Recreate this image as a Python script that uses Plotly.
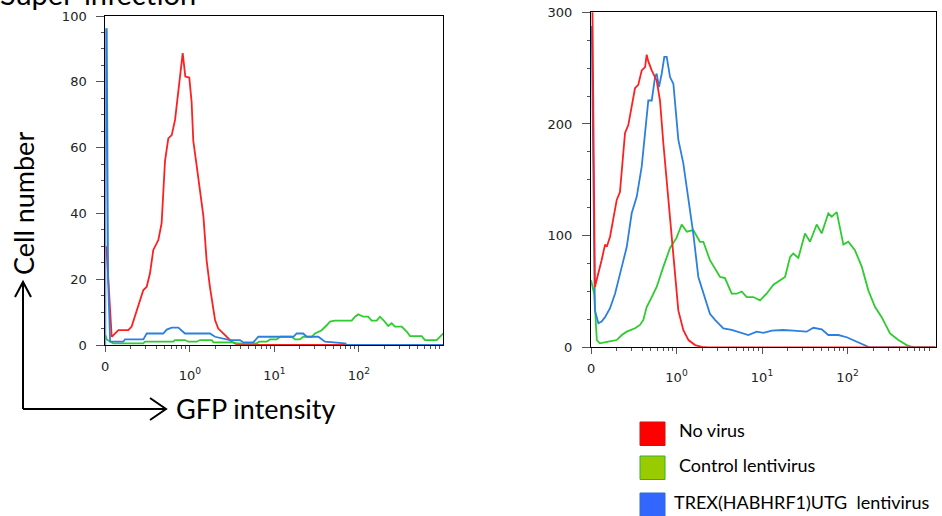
import plotly.graph_objects as go

# ---------------- data (GFP intensity, cell number) ----------------
# Left panel: "Super-infection"
left_red_x = [0.103, 0.119, 0.143, 0.187, 0.205, 0.224, 0.258, 0.282, 0.309,
              0.338, 0.370, 0.424, 0.464, 0.509, 0.557, 0.611, 0.669, 0.74, 0.824,
              0.885, 0.986, 1.05, 1.10, 1.21, 1.32, 1.45, 1.58, 1.73, 1.99,
              2.17, 2.49, 2.86, 3.13, 3.75, 1000]
left_red_y = [30, 2.5, 4.5, 4.5, 5.6, 8.6, 13.7, 16.7, 17.7,
              21.8, 28.9, 31.9, 37, 56, 62.8, 63.8, 68.4, 78, 88.7,
              81.6, 81.3, 74, 62, 54.2, 47.1, 39, 25.8, 17.7, 7.6,
              5, 3.5, 2, 1, 0, 0]

left_green_x = [0.1, 0.104, 0.124, 0.282, 0.295, 0.638, 0.669, 0.877, 0.959, 1.21,
                1.32, 1.82, 1.90, 3.27, 3.59, 6.19, 6.6, 8.13, 8.90, 10.7,
                11.7, 16.1, 17.6, 20.1, 22.0, 27.7, 30.3, 33.2, 36.4, 41.7,
                45.6, 52.3, 57.2, 82.4, 90.2, 98.6, 113, 129, 142, 163,
                178, 195, 223, 245, 268, 322, 369, 404, 555, 607,
                835, 957, 1000]
left_green_y = [3, 1.7, 0.5, 0.5, 1.0, 1.0, 1.5, 1.5, 1.0, 1.0,
                1.5, 1.5, 0.8, 0.8, 0.5, 0.5, 1.0, 1.0, 1.7, 1.7,
                2.5, 2.5, 1.7, 1.7, 2.5, 2.5, 3.5, 4.0, 4.5, 6.0,
                7.1, 7.4, 7.4, 7.4, 8.6, 9.3, 8.6, 8.6, 7.4, 7.4,
                8.6, 7.6, 5.8, 6.6, 5.6, 5.6, 4.1, 2.7, 2.7, 1.5,
                1.5, 3.0, 3.5]

left_blue_x = [0.1, 0.101, 0.104, 0.106, 0.108, 0.114, 0.163, 0.171, 0.282, 0.309,
               0.485, 0.533, 0.611, 0.731, 0.802, 0.877, 1.73, 1.99, 2.99, 3.93,
               4.30, 5.64, 6.47, 16.8, 18.4, 22.0, 24.2, 33.2, 39.8, 68.7,
               72, 1000]
left_blue_y = [0, 96, 96, 60, 20, 1.0, 1.0, 1.7, 1.7, 3.5,
               3.5, 4.7, 5.3, 5.3, 4.5, 3.5, 3.5, 2.5, 1.5, 1.5,
               0.8, 0.8, 2.5, 2.5, 3.5, 3.5, 2.5, 2.5, 1.0, 0.5,
               0, 0]

# Right panel
right_red_x = [0.1, 0.1035, 0.111, 0.122, 0.133, 0.146, 0.153, 0.167, 0.200, 0.218,
               0.250, 0.273, 0.327, 0.357, 0.392, 0.429, 0.448, 0.468, 0.513, 0.586,
               0.641, 0.701, 0.768, 0.840, 0.919, 1.05, 1.20, 1.38, 1.65, 1.97,
               2.3, 1070]
right_red_y = [320, 320, 54, 66, 78, 92, 90, 99, 132, 139,
               192, 199, 232, 235, 248, 251, 262, 256, 248, 239,
               221, 183, 150, 117, 81, 33, 15.5, 6.5, 2, 0.3,
               0, 0]

right_green_x = [0.1, 0.109, 0.117, 0.127, 0.159, 0.200, 0.229, 0.262, 0.327, 0.374,
                 0.409, 0.448, 0.513, 0.586, 0.701, 0.840, 1.00, 1.15, 1.32, 1.57,
                 1.88, 2.06, 2.46, 3.23, 3.69, 4.42, 5.06, 5.79, 6.62, 7.91,
                 9.48, 11.3, 13.6, 16.2, 18.6, 21.3, 23.2, 26.6, 31.8, 36.4,
                 43.6, 49.9, 59.6, 65.3, 74.8, 89.4, 102, 122, 147, 175,
                 210, 251, 314, 393, 492, 564, 600, 1070]
right_green_y = [60, 48, 6.5, 3.6, 5, 6.5, 11, 14, 17, 20,
                 24.5, 36, 45, 54, 72, 89, 98, 110, 103.5, 105,
                 94.5, 94.5, 78, 63, 62, 48, 48, 50, 45, 45,
                 42, 48, 56, 60, 63, 81, 84, 80, 102, 94.5,
                 110, 102, 120, 117, 121, 92, 94.5, 87, 72, 51,
                 36, 27, 12.5, 6.5, 2, 0.5, 0, 0]

right_blue_x = [0.1, 0.102, 0.111, 0.122, 0.133, 0.146, 0.167, 0.191, 0.229, 0.262,
                0.299, 0.343, 0.392, 0.429, 0.468, 0.513, 0.561, 0.586, 0.624, 0.671,
                0.720, 0.768, 0.840, 0.919, 1.05, 1.20, 1.38, 1.57, 1.80, 2.06,
                2.46, 2.82, 3.53, 4.42, 5.53, 6.92, 8.67, 10.4, 13.0, 17.7,
                23.2, 33.3, 39.8, 49.9, 59.6, 78.0, 97.9, 128, 168, 180,
                1070]
right_blue_y = [287, 287, 33, 21.5, 23, 27, 35, 48, 72, 90,
                120, 135, 162, 192, 221, 221, 242, 245, 233, 245,
                260, 260, 242, 236, 186, 165, 132, 102, 63, 48,
                30, 24.5, 17, 15.5, 13, 11, 14, 13, 15, 15.5,
                15, 14, 17.5, 16, 11, 11, 9, 5, 0.5, 0,
                0]

x_tick_vals = [0.1, 1, 10, 100]
x_tick_text = ["", "10<sup>0</sup>", "10<sup>1</sup>", "10<sup>2</sup>"]
x_zero_label = "0"
x_minor_vals = [m * d for d in (0.1, 1, 10, 100) for m in range(2, 10)]

legend_labels = ["No virus", "Control lentivirus", "TREX(HABHRF1)UTG  lentivirus"]

# ---------------- styling ----------------
W, H = 942, 516
RED, GREEN, BLUE = "#ff1f1f", "#2ecc2e", "#2b80de"
CAL = "Lato"
TICKFAM = "DejaVu Sans"


def px(x, y):
    return x / W, 1 - y / H


fig = go.Figure()
for xs, ys, c in [(left_red_x, left_red_y, RED), (left_green_x, left_green_y, GREEN),
                  (left_blue_x, left_blue_y, BLUE)]:
    fig.add_trace(go.Scatter(x=xs, y=ys, mode="lines", line=dict(color=c, width=1.8),
                             xaxis="x", yaxis="y", showlegend=False, hoverinfo="skip"))
for xs, ys, c in [(right_green_x, right_green_y, GREEN), (right_blue_x, right_blue_y, BLUE),
                  (right_red_x, right_red_y, RED)]:
    fig.add_trace(go.Scatter(x=xs, y=ys, mode="lines", line=dict(color=c, width=1.8),
                             xaxis="x2", yaxis="y2", showlegend=False, hoverinfo="skip"))

tickfont = dict(family=TICKFAM, size=13, color="#222")


def xax(domain, rng, anchor):
    return dict(type="log", range=rng, domain=domain, anchor=anchor, automargin=False,
                showline=True, linecolor="black", linewidth=1, mirror=True,
                ticks="outside", ticklen=6, tickcolor="#555", tickwidth=1,
                tickmode="array", tickvals=x_tick_vals, ticktext=x_tick_text,
                tickfont=tickfont, showgrid=False, zeroline=False,
                ticklabelstandoff=12,
                minor=dict(tickmode="array", tickvals=x_minor_vals, ticks="outside",
                           ticklen=3, tickcolor="#555", showgrid=False))


def yax(domain, rng, dtick, mdtick, anchor):
    return dict(range=rng, domain=domain, anchor=anchor, automargin=False,
                showline=True, linecolor="black", linewidth=1, mirror=True,
                ticks="outside", ticklen=8, tickcolor="#555", tickwidth=1,
                dtick=dtick, tick0=0, tickfont=tickfont, showgrid=False, zeroline=False,
                ticklabelstandoff=7,
                minor=dict(dtick=mdtick, tick0=0, ticks="outside", ticklen=3,
                           tickcolor="#555", showgrid=False))


lx0, lx1 = 105.3, 443.3
ly0, ly1 = 16, 345
rx0, rx1 = 591, 935.7
ry0, ry1 = 12.3, 347.3

fig.update_layout(
    width=W, height=H, margin=dict(l=0, r=0, t=0, b=0, autoexpand=False),
    paper_bgcolor="white", plot_bgcolor="white",
    xaxis=xax([lx0 / W, lx1 / W], [-1, 3.0], "y"),
    yaxis=yax([1 - ly1 / H, 1 - ly0 / H], [0, 100], 20, 5, "x"),
    xaxis2=xax([rx0 / W, rx1 / W], [-1, 3.031], "y2"),
    yaxis2=yax([1 - ry1 / H, 1 - ry0 / H], [0, 300], 100, 25, "x2"),
)

shapes = []
line_style = dict(color="black", width=2)
for (xa, ya, xb, yb) in [(23, 409, 23, 282), (23, 409, 166, 409)]:
    a, b = px(xa, ya)
    c, d = px(xb, yb)
    shapes.append(dict(type="line", xref="paper", yref="paper", x0=a, y0=b, x1=c, y1=d,
                       line=line_style))


def path(points):
    s = ""
    for i, (x, y) in enumerate(points):
        a, b = px(x, y)
        s += ("M" if i == 0 else " L") + f" {a:.5f} {b:.5f}"
    return s


shapes.append(dict(type="path", xref="paper", yref="paper",
                   path=path([(15, 297), (23, 282), (31, 297)]), line=line_style))
shapes.append(dict(type="path", xref="paper", yref="paper",
                   path=path([(150, 398), (166, 409), (150, 420)]), line=line_style))

sq = [(422, "#ff0000", "#d01010"), (456, "#99cc00", "#33b033"), (493, "#3366ff", "#2a6fd0")]
for top, fill, edge in sq:
    a, b = px(640, top)
    c, d = px(665, top + 23.5)
    shapes.append(dict(type="rect", xref="paper", yref="paper", x0=a, y0=d, x1=c, y1=b,
                       fillcolor=fill, line=dict(color=edge, width=1)))

annotations = []


def note(text, x, y, size, xanchor="left", yanchor="middle", angle=0, family=CAL,
         color="black"):
    a, b = px(x, y)
    annotations.append(dict(text=text, x=a, y=b, xref="paper", yref="paper",
                            xanchor=xanchor, yanchor=yanchor, showarrow=False,
                            textangle=angle, font=dict(family=family, size=size, color=color)))


note("Super-infection", -2, -6, 29)
note("Cell number", 23, 204, 27, xanchor="center", angle=-90)
note("GFP intensity", 174, 408, 27)
note(legend_labels[0], 677, 430, 18)
note(legend_labels[1], 677, 465, 18)
note(legend_labels[2], 672, 502, 18)
# "0" labels of the two biexponential x axes (sit higher than the 10^n labels)
note(x_zero_label, lx0, 366, 13, xanchor="center", family=TICKFAM, color="#222")
note(x_zero_label, rx0, 368, 13, xanchor="center", family=TICKFAM, color="#222")

fig.update_layout(shapes=shapes, annotations=annotations)
fig.write_html("out.html")
